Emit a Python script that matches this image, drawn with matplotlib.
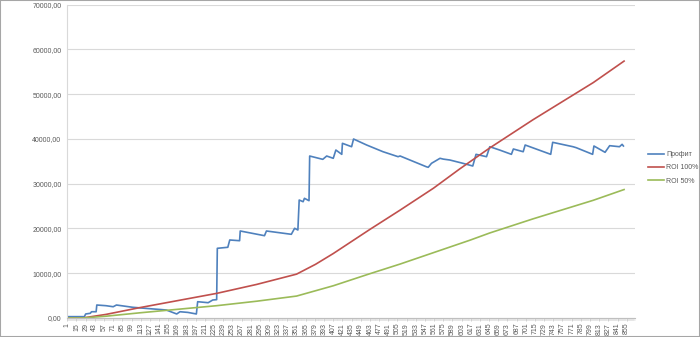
import matplotlib
matplotlib.use('Agg')
from matplotlib import pyplot as plt
from matplotlib.ticker import FuncFormatter, MultipleLocator
from matplotlib.patches import Rectangle

plt.rcParams['font.family'] = ['Liberation Sans', 'DejaVu Sans']

# categories on the x axis (row numbers 1..867), data stops near 851
n_cat = 867
tick_cats = list(range(1, 856, 14))

# Профит (at its corners / steps)
profit_x = [1, 27, 29, 36, 38, 45, 46, 60, 71, 76, 101, 125, 152, 168, 173, 185, 198,
            200, 216, 223, 229, 230, 246, 249, 264, 265, 302, 305, 343, 348, 353, 355,
            361, 363, 370, 371, 391, 397, 407, 411, 420, 421, 435, 438, 458, 483, 506,
            509, 534, 549, 552, 557, 570, 575, 585, 605, 620, 625, 641, 646, 661, 679,
            682, 697, 700, 739, 742, 773, 778, 803, 805, 822, 829, 844, 848, 850]
profit_y = [300, 300, 900, 1050, 1400, 1400, 2900, 2750, 2520, 2900, 2390, 2100, 1790,
            900, 1400, 1250, 900, 3640, 3420, 4020, 4100, 15570, 15800, 17430, 17270,
            19440, 18390, 19440, 18700, 20040, 19660, 26360, 25980, 26740, 26210, 36190,
            35450, 36190, 35680, 37530, 36570, 39030, 38270, 39990, 38650, 37150, 36040,
            36200, 34700, 33800, 33670, 34560, 35680, 35500, 35300, 34560, 33960, 36570,
            36040, 38270, 37530, 36570, 37760, 37150, 38650, 36570, 39250, 38270, 38050,
            36570, 38430, 37020, 38500, 38270, 38800, 38430]

# ROI 100%
roi100_x = [1, 24, 60, 111, 170, 229, 290, 351, 380, 407, 463, 509, 560, 600, 646,
            712, 753, 804, 851]
roi100_y = [0, 0, 800, 2300, 3900, 5500, 7500, 9800, 12000, 14400, 19800, 24100,
            29000, 33300, 38000, 44300, 48000, 52600, 57400]

# ROI 50%
roi50_x = [1, 24, 60, 111, 170, 229, 290, 351, 407, 463, 509, 560, 616, 646, 712,
           753, 804, 851]
roi50_y = [0, 0, 400, 1150, 1950, 2750, 3750, 4900, 7200, 9900, 12050, 14600, 17400,
           19000, 22150, 24000, 26300, 28700]

fig = plt.figure(figsize=(7.0, 3.37), dpi=100)
fig.patches.append(Rectangle((0, 0), 1, 1, transform=fig.transFigure, fill=False,
                             edgecolor='#a6a6a6', linewidth=1.5))

ax = fig.add_axes([67/700, 1 - 318/337, 568/700, (318 - 4.7)/337])

ax.plot(profit_x, profit_y, color='#4F81BD', lw=1.2, label='Профит')
ax.plot(roi100_x, roi100_y, color='#C0504D', lw=1.2, label='ROI 100%')
ax.plot(roi50_x, roi50_y, color='#9BBB59', lw=1.2, label='ROI 50%')

ax.set_xlim(0.5, n_cat + 0.7)
ax.set_ylim(0, 70000)
ax.yaxis.set_major_locator(MultipleLocator(10000))
ax.yaxis.set_major_formatter(FuncFormatter(lambda v, p: ('%.2f' % v).replace('.', ',')))
ax.grid(axis='y', color='#d9d9d9', lw=0.8)
ax.set_axisbelow(True)

ax.set_xticks(tick_cats)
ax.set_xticklabels([str(c) for c in tick_cats], rotation=90)
ax.set_xticks(range(1, n_cat + 1), minor=True)

for s in ['top', 'right']:
    ax.spines[s].set_visible(False)
ax.spines['left'].set_color('#d9d9d9')
ax.spines['bottom'].set_color('#bfbfbf')

ax.tick_params(axis='y', length=0, pad=4, labelsize=5, labelcolor='#595959')
ax.tick_params(axis='x', which='major', length=2.5, width=0.5, color='#bfbfbf',
               pad=1, labelsize=5, labelcolor='#595959')
ax.tick_params(axis='x', which='minor', length=2, width=0.3, color='#cfcfcf')

leg = ax.legend(loc='center left', bbox_to_anchor=(1.012, 0.479), frameon=False,
                fontsize=5, handlelength=2.3, handletextpad=0.3, labelspacing=0.9,
                labelcolor='#595959')

fig.savefig('out.png', dpi=100)
